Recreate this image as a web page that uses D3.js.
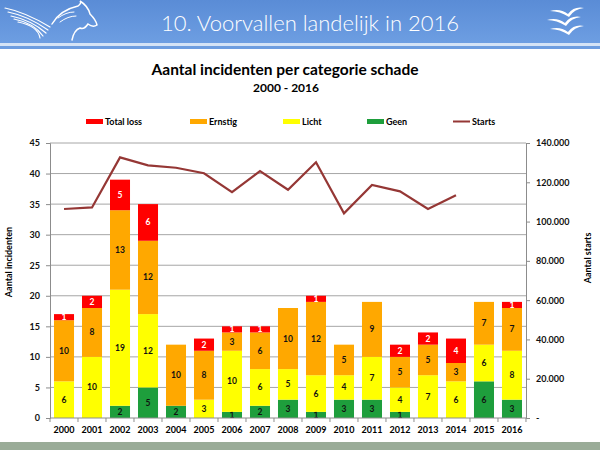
<!DOCTYPE html>
<html>
<head>
<meta charset="utf-8">
<script src="https://cdn.jsdelivr.net/npm/d3@7"></script>
<style>
  body { margin: 0; background: #fff; }
  svg text { font-family: Lato, "Open Sans", sans-serif; }
</style>
</head>
<body>
<div id="chart"></div>
<script>
// Data
var years = ["2000", "2001", "2002", "2003", "2004", "2005", "2006", "2007", "2008",
             "2009", "2010", "2011", "2012", "2013", "2014", "2015", "2016"];
var geen      = [0, 0, 2, 5, 2, 0, 1, 2, 3, 1, 3, 3, 1, 0, 0, 6, 3];
var licht     = [6, 10, 19, 12, 0, 3, 10, 6, 5, 6, 4, 7, 4, 7, 6, 6, 8];
var ernstig   = [10, 8, 13, 12, 10, 8, 3, 6, 10, 12, 5, 9, 5, 5, 3, 7, 7];
var totalLoss = [1, 2, 5, 6, 0, 2, 1, 1, 0, 1, 0, 0, 2, 2, 4, 0, 1];
var starts    = [106400, 107200, 132700, 128600, 127400, 124600, 115000, 125700, 116200,
                 130200, 104200, 118600, 115400, 106400, 113400, null, null];
var leftTicks = [0, 5, 10, 15, 20, 25, 30, 35, 40, 45];
var rightTicks = [0, 20000, 40000, 60000, 80000, 100000, 120000, 140000];

var width = 600,
    height = 450,
    margin = { top: 143, right: 74, bottom: 32, left: 50 };

var svg = d3.select("#chart")
    .append("svg")
    .attr("width", width)
    .attr("height", height);

// Header band
var grad = svg.append("defs").append("linearGradient")
    .attr("id", "hdr").attr("x1", 0).attr("y1", 0).attr("x2", 0).attr("y2", 1);
grad.append("stop").attr("offset", "0%").attr("stop-color", "#5a8cd6");
grad.append("stop").attr("offset", "100%").attr("stop-color", "#6d9ee2");

svg.append("rect").attr("x", 0).attr("y", 0).attr("width", width).attr("height", 43)
    .attr("fill", "url(#hdr)");
svg.append("rect").attr("x", 0).attr("y", 43).attr("width", width).attr("height", 3)
    .attr("fill", "#d4e3f6");
svg.append("rect").attr("x", 0).attr("y", 46).attr("width", width).attr("height", 3)
    .attr("fill", "#6d9de0");

svg.append("text")
    .attr("x", 310).attr("y", 31)
    .attr("text-anchor", "middle")
    .attr("fill", "#fff")
    .style("font-size", "22px")
    .style("font-weight", "300")
    .text("10. Voorvallen landelijk in 2016");

// Pegasus logo (rough)
var logo = svg.append("g").attr("fill", "none").attr("stroke", "#fff")
    .attr("stroke-width", 1.2).attr("stroke-linecap", "round");
[[5, 8, 50, 27], [8, 12, 48, 30], [11, 16, 46, 33], [14, 19, 43, 36], [18, 22, 40, 38]]
    .forEach(function(l) {
        logo.append("path").attr("d", "M" + l[0] + "," + l[1] + " Q" + (l[0] + 20) + "," + (l[1] + 4) + " " + l[2] + "," + l[3]);
    });
logo.append("path").attr("d", "M52,24 Q60,10 78,6 Q82,3 80,1 Q88,6 90,14 Q96,20 97,25 Q93,28 88,24 Q84,30 80,28 Q74,30 72,40")
    .attr("stroke-width", 1.5);
logo.append("path").attr("d", "M58,18 Q66,12 74,12 M60,22 Q68,16 76,16").attr("stroke-width", 1);

// Birds logo (rough)
var birds = svg.append("g").attr("fill", "#fff");
[[550, 11], [547, 20], [550, 29]].forEach(function(b) {
    var x0 = b[0], y0 = b[1];
    birds.append("path").attr("d",
        "M" + x0 + "," + y0 + " Q" + (x0 + 10) + "," + (y0 - 3) + " " + (x0 + 18) + "," + (y0 + 3) +
        " Q" + (x0 + 24) + "," + (y0 - 5) + " " + (x0 + 34) + "," + (y0 - 3) +
        " Q" + (x0 + 24) + "," + (y0 - 2) + " " + (x0 + 19) + "," + (y0 + 6) +
        " Q" + (x0 + 10) + "," + (y0 + 0) + " " + x0 + "," + y0 + "Z");
});

// Chart titles
svg.append("text")
    .attr("x", 285).attr("y", 75)
    .attr("text-anchor", "middle")
    .style("font-size", "15.5px").style("font-weight", "bold")
    .text("Aantal incidenten per categorie schade");
svg.append("text")
    .attr("x", 286).attr("y", 92)
    .attr("text-anchor", "middle")
    .style("font-size", "12px").style("font-weight", "bold")
    .text("2000 - 2016");

// Scales
var x = d3.scaleBand()
    .domain(years)
    .range([margin.left, width - margin.right])
    .paddingInner(0.285)
    .paddingOuter(0.143);

var y = d3.scaleLinear()
    .domain([0, 45])
    .range([height - margin.bottom, margin.top]);

var y2 = d3.scaleLinear()
    .domain([0, 140000])
    .range([height - margin.bottom, margin.top]);

// Gridlines
svg.append("g")
    .selectAll("line")
    .data(leftTicks.slice(1))
    .enter().append("line")
    .attr("x1", margin.left).attr("x2", width - margin.right)
    .attr("y1", d => y(d)).attr("y2", d => y(d))
    .attr("stroke", "#a6a6a6").attr("stroke-width", 1);

// Stacked bars
var keys = ["geen", "licht", "ernstig", "totalLoss"];
var colors = { geen: "#1e9e3c", licht: "#ffff00", ernstig: "#ffa800", totalLoss: "#ff0000" };
var labelColors = { geen: "#111", licht: "#111", ernstig: "#111", totalLoss: "#fff" };
var table = years.map((yr, i) => ({
    year: yr, geen: geen[i], licht: licht[i], ernstig: ernstig[i], totalLoss: totalLoss[i]
}));
var stack = d3.stack().keys(keys)(table);

var layers = svg.append("g")
    .selectAll("g")
    .data(stack)
    .enter().append("g")
    .attr("fill", d => colors[d.key]);

layers.selectAll("rect")
    .data(d => d)
    .enter().append("rect")
    .attr("x", d => x(d.data.year))
    .attr("y", d => y(d[1]))
    .attr("width", x.bandwidth())
    .attr("height", d => y(d[0]) - y(d[1]));

// Data labels
layers.each(function(layer) {
    d3.select(this).selectAll("text")
        .data(layer.filter(d => d[1] - d[0] > 0))
        .enter().append("text")
        .attr("x", d => x(d.data.year) + x.bandwidth() / 2)
        .attr("y", d => y((d[0] + d[1]) / 2))
        .attr("dy", "0.35em")
        .attr("text-anchor", "middle")
        .attr("fill", labelColors[layer.key])
        .style("font-size", "8.5px").style("font-weight", "bold")
        .text(d => d[1] - d[0]);
});

// Starts line
var line = d3.line()
    .defined(d => d != null)
    .x((d, i) => x(years[i]) + x.bandwidth() / 2)
    .y(d => y2(d));

svg.append("path")
    .datum(starts)
    .attr("fill", "none")
    .attr("stroke", "#953735")
    .attr("stroke-width", 2.2)
    .attr("d", line);

// Axes
var axisColor = "#8c8c8c";

var xAxis = svg.append("g")
    .attr("transform", `translate(0,${height - margin.bottom})`);
xAxis.append("line")
    .attr("x1", margin.left).attr("x2", width - margin.right)
    .attr("stroke", axisColor);
// tick marks between categories
xAxis.selectAll("line.tick")
    .data(d3.range(years.length + 1))
    .enter().append("line")
    .attr("class", "tick")
    .attr("x1", i => margin.left + x.step() * i)
    .attr("x2", i => margin.left + x.step() * i)
    .attr("y1", 0).attr("y2", 4)
    .attr("stroke", axisColor);
xAxis.selectAll("text")
    .data(years)
    .enter().append("text")
    .attr("x", d => x(d) + x.bandwidth() / 2)
    .attr("y", 15)
    .attr("text-anchor", "middle")
    .style("font-size", "9px").style("font-weight", "bold")
    .text(d => d);

var yAxis = svg.append("g")
    .attr("transform", `translate(${margin.left},0)`)
    .call(d3.axisLeft(y).tickValues(leftTicks).tickSize(4).tickPadding(6));
yAxis.selectAll("text").style("font-size", "9px").style("font-weight", "bold");

var y2Axis = svg.append("g")
    .attr("transform", `translate(${width - margin.right},0)`)
    .call(d3.axisRight(y2).tickValues(rightTicks).tickSize(4).tickPadding(6)
        .tickFormat(d => d === 0 ? "-" : d3.format(",")(d).replace(/,/g, ".")));
y2Axis.selectAll("text").style("font-size", "9px").style("font-weight", "bold");

[yAxis, y2Axis].forEach(function(a) {
    a.select(".domain").attr("stroke", axisColor);
    a.selectAll(".tick line").attr("stroke", axisColor);
    a.selectAll("text").attr("fill", "#111");
});

// Axis titles
svg.append("text")
    .attr("transform", "translate(12,262) rotate(-90)")
    .attr("text-anchor", "middle")
    .style("font-size", "9px").style("font-weight", "bold")
    .text("Aantal incidenten");
svg.append("text")
    .attr("transform", "translate(591,258) rotate(-90)")
    .attr("text-anchor", "middle")
    .style("font-size", "9px").style("font-weight", "bold")
    .text("Aantal starts");

// Legend
var legendItems = [
    { label: "Total loss", key: "totalLoss", x: 86 },
    { label: "Ernstig", key: "ernstig", x: 190 },
    { label: "Licht", key: "licht", x: 283 },
    { label: "Geen", key: "geen", x: 367 }
];
var legend = svg.append("g");
legendItems.forEach(function(it) {
    legend.append("rect")
        .attr("x", it.x).attr("y", 119).attr("width", 17).attr("height", 5)
        .attr("fill", colors[it.key]);
    legend.append("text")
        .attr("x", it.x + 19).attr("y", 124.5)
        .style("font-size", "9px").style("font-weight", "bold")
        .text(it.label);
});
legend.append("line")
    .attr("x1", 453).attr("x2", 470).attr("y1", 121.5).attr("y2", 121.5)
    .attr("stroke", "#953735").attr("stroke-width", 2);
legend.append("text")
    .attr("x", 472).attr("y", 124.5)
    .style("font-size", "9px").style("font-weight", "bold")
    .text("Starts");

// Footer band
svg.append("rect")
    .attr("x", 0).attr("y", 442).attr("width", width).attr("height", 8)
    .attr("fill", "#9aac98");
</script>
</body>
</html>
